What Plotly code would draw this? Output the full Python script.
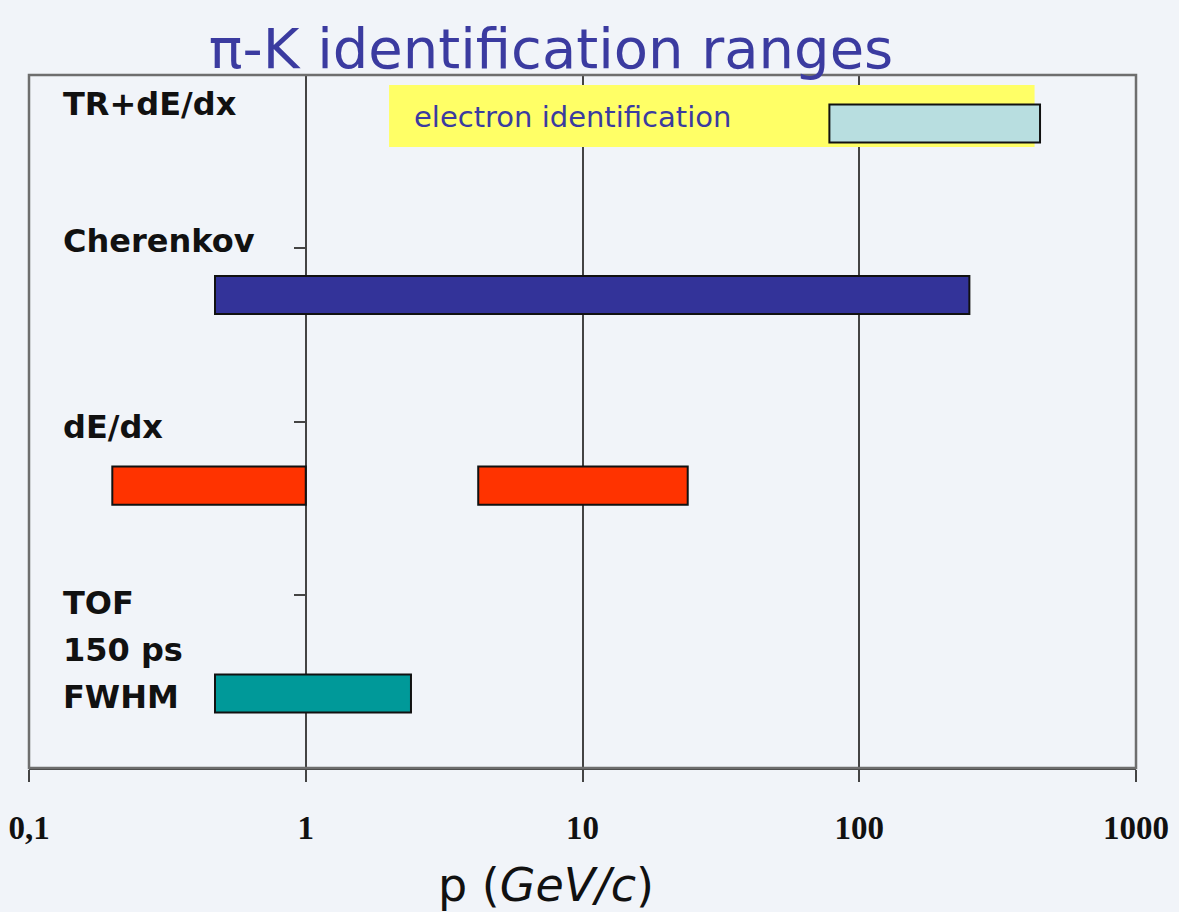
import math
import plotly.graph_objects as go

# Momentum ranges (GeV/c) over which each technique separates pi from K
detectors = ["TR+dE/dx", "Cherenkov", "dE/dx", "dE/dx", "TOF"]
p_low = [78, 0.47, 0.2, 4.2, 0.47]
p_high = [450, 250, 1.0, 24, 2.4]
row_y = [3.72, 2.73, 1.63, 1.63, 0.43]
bar_colors = ["#B8DEE0", "#333399", "#FF3300", "#FF3300", "#009999"]

# Band where the TR detector also identifies electrons
electron_band = (2.0, 430)
electron_y = 3.763
electron_label_p = 2.42

tick_vals = [0.1, 1, 10, 100, 1000]
tick_text = ["0,1", "1", "10", "100", "1000"]

label_rows = [("TR+dE/dx", 3.83), ("Cherenkov", 3.04), ("dE/dx", 1.97),
              ("TOF", 0.952), ("150 ps", 0.681), ("FWHM", 0.41)]

bg = "#F1F4F9"
ink = "#3B3BA0"

fig = go.Figure()

fig.add_trace(go.Bar(
    y=[electron_y], x=[electron_band[1] - electron_band[0]], base=[electron_band[0]],
    orientation="h", width=0.358,
    marker=dict(color="#FFFF66", line=dict(width=0)),
    hoverinfo="skip", showlegend=False,
))

for name, lo, hi, y, c in zip(detectors, p_low, p_high, row_y, bar_colors):
    fig.add_trace(go.Bar(
        y=[y], x=[hi - lo], base=[lo], orientation="h", width=0.22,
        marker=dict(color=c, line=dict(color="#111111", width=2)),
        name=name, showlegend=False,
    ))

annotations = []
for text, y in label_rows:
    annotations.append(dict(
        text=text, xref="paper", yref="y", x=0.029, y=y,
        xanchor="left", yanchor="middle", showarrow=False,
        font=dict(family="DejaVu Sans", size=32, color="#111111", weight="bold"),
    ))

# annotation x on a log axis is given in log10 units
annotations.append(dict(
    text="electron identification", xref="x", yref="y",
    x=math.log10(electron_label_p), y=3.758, xanchor="left", yanchor="middle",
    showarrow=False,
    font=dict(family="DejaVu Sans", size=29, color=ink),
))

annotations.append(dict(
    text="p (<i>GeV/c</i>)", xref="paper", yref="paper",
    x=0.467, y=(768 - 885) / 693, xanchor="center", yanchor="middle",
    showarrow=False,
    font=dict(family="DejaVu Sans", size=46, color="#111111"),
))

fig.update_layout(
    width=1179, height=912,
    margin=dict(l=29, r=43, t=75, b=144),
    paper_bgcolor=bg, plot_bgcolor=bg,
    barmode="overlay",
    title=dict(
        text="π-K identification ranges", xref="paper", yref="container",
        x=0.4716, xanchor="center", y=1 - 48 / 912, yanchor="middle",
        font=dict(family="DejaVu Sans", size=56, color=ink),
    ),
    xaxis=dict(
        type="log", range=[-1, 3], automargin=False,
        tickvals=tick_vals, ticktext=tick_text,
        ticks="outside", ticklen=12, tickwidth=2, tickcolor="#444444",
        showgrid=True, gridcolor="#444444", gridwidth=2,
        showline=True, linecolor="#444444", linewidth=2,
        zeroline=False, ticklabelstandoff=17,
        tickfont=dict(family="Liberation Serif", size=33, color="#111111", weight="bold"),
    ),
    yaxis=dict(
        range=[0, 4], anchor="free", position=0.25, automargin=False,
        tickvals=[1, 2, 3], ticks="outside", ticklen=12, tickwidth=2,
        tickcolor="#444444", showticklabels=False,
        showgrid=False, showline=False, zeroline=False,
    ),
    shapes=[dict(
        type="rect", xref="x domain", yref="y domain", x0=0, x1=1, y0=0, y1=1,
        line=dict(color="#6E6E6E", width=2.5), layer="above",
    )],
    annotations=annotations,
)

fig.write_html("out.html")
